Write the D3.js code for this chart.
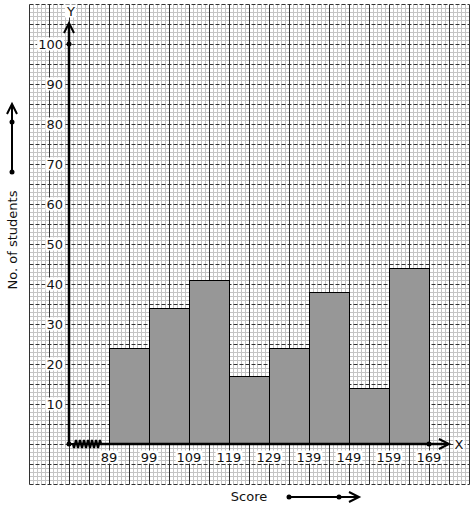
<!DOCTYPE html>
<html><head><meta charset="utf-8">
<script src="https://cdn.jsdelivr.net/npm/d3@7"></script>
<style>html,body{margin:0;padding:0;background:#fff;}svg{display:block;}</style>
</head><body>
<script>
const binEdges = [89, 99, 109, 119, 129, 139, 149, 159, 169];
const counts = [24, 34, 41, 17, 24, 38, 14, 44];
const yTicks = [10, 20, 30, 40, 50, 60, 70, 80, 90, 100];
const xTickLabels = ["89", "99", "109", "119", "129", "139", "149", "159", "169"];

const W = 474, H = 510;
const svg = d3.select("body").append("svg").attr("width", W).attr("height", H);
const x = d3.scaleLinear().domain([79, 169]).range([69, 429]);
const y = d3.scaleLinear().domain([0, 100]).range([444, 44]);
const font = "DejaVu Sans, sans-serif";

// grid in data units
const gx0 = 69, gx1 = 179, gy0 = -10, gy1 = 110;
const g = svg.append("g").attr("transform", "translate(0.5,0.5)");
const minorX = d3.range(gx0, gx1 + 0.01, 1).filter(v => (v - gx0) % 5 !== 0);
const minorY = d3.range(gy0, gy1 + 0.01, 1).filter(v => (v - gy0) % 5 !== 0);
g.selectAll(".mx").data(minorX).join("line")
  .attr("x1", d => x(d)).attr("x2", d => x(d)).attr("y1", y(gy1)).attr("y2", y(gy0))
  .attr("stroke", "#c4c4c4").attr("stroke-width", 1);
g.selectAll(".my").data(minorY).join("line")
  .attr("y1", d => y(d)).attr("y2", d => y(d)).attr("x1", x(gx0)).attr("x2", x(gx1))
  .attr("stroke", "#c4c4c4").attr("stroke-width", 1);
const majorX = d3.range(gx0, gx1 + 0.01, 5);
const majorY = d3.range(gy0, gy1 + 0.01, 5);
g.selectAll(".Mx").data(majorX).join("line")
  .attr("x1", d => x(d)).attr("x2", d => x(d)).attr("y1", y(gy1)).attr("y2", y(gy0))
  .attr("stroke", "#333").attr("stroke-width", 1);
g.selectAll(".My").data(majorY).join("line")
  .attr("y1", d => y(d)).attr("y2", d => y(d)).attr("x1", x(gx0)).attr("x2", x(gx1))
  .attr("stroke", "#333").attr("stroke-width", 1).attr("stroke-dasharray", "4,2");

// bars
const bins = counts.map((c, i) => ({ x0: binEdges[i], x1: binEdges[i + 1], v: c }));
g.selectAll(".bar").data(bins).join("rect")
  .attr("x", d => x(d.x0)).attr("width", d => x(d.x1) - x(d.x0))
  .attr("y", d => y(d.v)).attr("height", d => y(0) - y(d.v))
  .attr("fill", "#979797").attr("stroke", "#000").attr("stroke-width", 1);

// labels with white background
function label(tx, ty, txt, anchor, opts = {}) {
  const t = svg.append("text").attr("x", tx).attr("y", ty).attr("text-anchor", anchor)
    .attr("dominant-baseline", "central").attr("font-family", font).attr("font-size", 13)
    .attr("fill", "#111").text(txt);
  if (opts.bg !== false) {
    const b = t.node().getBBox();
    svg.insert("rect", () => t.node()).attr("x", b.x - 1).attr("y", b.y + 1)
      .attr("width", b.width + 2).attr("height", b.height - 2).attr("fill", "#fff");
  }
  return t;
}
yTicks.forEach(v => label(63, y(v), String(v), "end"));
xTickLabels.forEach((s, i) => label(x(binEdges[i]), 457, s, "middle"));

// axes
const ax = svg.append("g");
ax.append("line").attr("x1", x(79)).attr("x2", x(79)).attr("y1", y(0)).attr("y2", 24)
  .attr("stroke", "#000").attr("stroke-width", 2.5);
ax.append("path").attr("d", `M${x(79) - 5},33 L${x(79)},23 L${x(79) + 5},33`)
  .attr("fill", "none").attr("stroke", "#000").attr("stroke-width", 2);
ax.append("line").attr("x1", 100).attr("x2", 448).attr("y1", y(0)).attr("y2", y(0))
  .attr("stroke", "#000").attr("stroke-width", 2.5);
ax.append("path").attr("d", `M439,${y(0) - 5} L449,${y(0)} L439,${y(0) + 5}`)
  .attr("fill", "none").attr("stroke", "#000").attr("stroke-width", 2);
// zigzag break
let zz = `M${x(79)},${y(0)} L73,${y(0)}`;
for (let i = 0; i < 14; i++) {
  const px = 73 + (i + 0.5) * 2;
  zz += ` L${px},${y(0) + (i % 2 ? -4 : 4)}`;
}
zz += ` L101,${y(0)}`;
ax.append("path").attr("d", zz).attr("fill", "none").attr("stroke", "#000").attr("stroke-width", 2.2);
// dots
[[x(79), y(0)], [x(79), y(100)], [x(169), y(0)]].forEach(p =>
  ax.append("circle").attr("cx", p[0]).attr("cy", p[1]).attr("r", 2.5).attr("fill", "#000"));

label(71, 11, "Y", "middle");
label(459, y(0), "X", "middle");

// left arrow
ax.append("line").attr("x1", 12).attr("x2", 12).attr("y1", 172).attr("y2", 105)
  .attr("stroke", "#000").attr("stroke-width", 2);
ax.append("path").attr("d", "M7,114 L12,104 L17,114").attr("fill", "none").attr("stroke", "#000").attr("stroke-width", 2);
[122, 172].forEach(cy => ax.append("circle").attr("cx", 12).attr("cy", cy).attr("r", 2.5).attr("fill", "#000"));
svg.append("text").attr("transform", "translate(12,240) rotate(-90)").attr("text-anchor", "middle")
  .attr("dominant-baseline", "central").attr("font-family", font).attr("font-size", 13)
  .attr("fill", "#111").text("No. of students");

// bottom
svg.append("text").attr("x", 249).attr("y", 496).attr("text-anchor", "middle")
  .attr("dominant-baseline", "central").attr("font-family", font).attr("font-size", 13)
  .attr("fill", "#111").text("Score");
ax.append("line").attr("x1", 289).attr("x2", 358).attr("y1", 497).attr("y2", 497)
  .attr("stroke", "#000").attr("stroke-width", 2);
ax.append("path").attr("d", "M349,492 L359,497 L349,502").attr("fill", "none").attr("stroke", "#000").attr("stroke-width", 2);
[289, 339].forEach(cx => ax.append("circle").attr("cx", cx).attr("cy", 497).attr("r", 2.5).attr("fill", "#000"));
</script>
</body></html>
